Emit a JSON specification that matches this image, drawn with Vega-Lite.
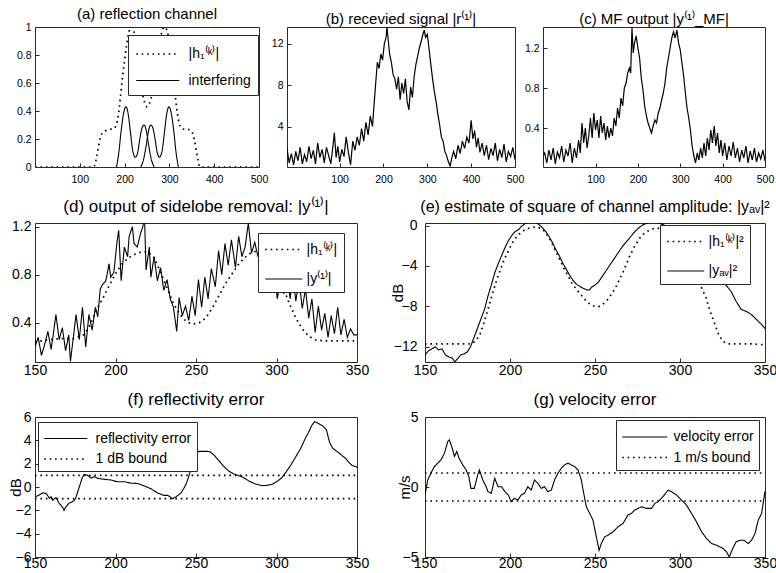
{
"$schema": "https://vega.github.io/schema/vega-lite/v6.json",
"padding": {"left": 8, "top": 6, "right": 0, "bottom": 0},
"background": "white",
"spacing": 12,
"resolve": {"scale": {"strokeDash": "independent", "strokeWidth": "independent"}, "legend": {"strokeDash": "independent", "strokeWidth": "independent"}},
"config": {
  "font": "Liberation Sans",
  "view": {"stroke": "#2a2a2a", "strokeWidth": 1},
  "axis": {"domain": false, "grid": false, "tickColor": "#2a2a2a", "tickSize": -4, "labelColor": "black", "labelFlush": false, "labelOverlap": false, "labelFont": "Liberation Sans", "titleFont": "Liberation Sans", "titleFontWeight": "normal", "titleColor": "black"},
  "legend": {"fillColor": "white", "strokeColor": "#2a2a2a", "labelFontSize": 14, "labelColor": "black", "symbolStrokeColor": "black", "symbolStrokeWidth": 1.4, "symbolType": "M-2,0H2"},
  "title": {"fontWeight": "normal", "color": "black", "anchor": "middle", "frame": "group", "baseline": "alphabetic", "font": "Liberation Sans"}
},
"datasets": {
"a": [
{"x":0,"y":0,"s":"|h₁⁽ᵏ⁾|","p":0},{"x":130,"y":0,"s":"|h₁⁽ᵏ⁾|","p":0},{"x":134,"y":0.02,"s":"|h₁⁽ᵏ⁾|","p":0},{"x":138,"y":0.08,"s":"|h₁⁽ᵏ⁾|","p":0},{"x":142,"y":0.15,"s":"|h₁⁽ᵏ⁾|","p":0},{"x":146,"y":0.21,"s":"|h₁⁽ᵏ⁾|","p":0},{"x":150,"y":0.24,"s":"|h₁⁽ᵏ⁾|","p":0},{"x":158,"y":0.26,"s":"|h₁⁽ᵏ⁾|","p":0},{"x":166,"y":0.27,"s":"|h₁⁽ᵏ⁾|","p":0},{"x":174,"y":0.27,"s":"|h₁⁽ᵏ⁾|","p":0},{"x":180,"y":0.29,"s":"|h₁⁽ᵏ⁾|","p":0},{"x":184,"y":0.33,"s":"|h₁⁽ᵏ⁾|","p":0},{"x":188,"y":0.42,"s":"|h₁⁽ᵏ⁾|","p":0},{"x":192,"y":0.54,"s":"|h₁⁽ᵏ⁾|","p":0},{"x":196,"y":0.66,"s":"|h₁⁽ᵏ⁾|","p":0},{"x":200,"y":0.76,"s":"|h₁⁽ᵏ⁾|","p":0},{"x":204,"y":0.86,"s":"|h₁⁽ᵏ⁾|","p":0},{"x":208,"y":0.94,"s":"|h₁⁽ᵏ⁾|","p":0},{"x":212,"y":0.99,"s":"|h₁⁽ᵏ⁾|","p":0},{"x":216,"y":1.0,"s":"|h₁⁽ᵏ⁾|","p":0},{"x":220,"y":0.98,"s":"|h₁⁽ᵏ⁾|","p":0},{"x":224,"y":0.9,"s":"|h₁⁽ᵏ⁾|","p":0},{"x":228,"y":0.8,"s":"|h₁⁽ᵏ⁾|","p":0},{"x":232,"y":0.7,"s":"|h₁⁽ᵏ⁾|","p":0},{"x":236,"y":0.6,"s":"|h₁⁽ᵏ⁾|","p":0},{"x":240,"y":0.52,"s":"|h₁⁽ᵏ⁾|","p":0},{"x":245,"y":0.46,"s":"|h₁⁽ᵏ⁾|","p":0},{"x":250,"y":0.43,"s":"|h₁⁽ᵏ⁾|","p":0},{"x":255,"y":0.45,"s":"|h₁⁽ᵏ⁾|","p":0},{"x":260,"y":0.5,"s":"|h₁⁽ᵏ⁾|","p":0},{"x":265,"y":0.58,"s":"|h₁⁽ᵏ⁾|","p":0},{"x":270,"y":0.68,"s":"|h₁⁽ᵏ⁾|","p":0},{"x":274,"y":0.78,"s":"|h₁⁽ᵏ⁾|","p":0},{"x":278,"y":0.88,"s":"|h₁⁽ᵏ⁾|","p":0},{"x":282,"y":0.95,"s":"|h₁⁽ᵏ⁾|","p":0},{"x":286,"y":0.99,"s":"|h₁⁽ᵏ⁾|","p":0},{"x":290,"y":1.0,"s":"|h₁⁽ᵏ⁾|","p":0},{"x":294,"y":0.98,"s":"|h₁⁽ᵏ⁾|","p":0},{"x":298,"y":0.93,"s":"|h₁⁽ᵏ⁾|","p":0},{"x":302,"y":0.85,"s":"|h₁⁽ᵏ⁾|","p":0},{"x":306,"y":0.74,"s":"|h₁⁽ᵏ⁾|","p":0},{"x":310,"y":0.6,"s":"|h₁⁽ᵏ⁾|","p":0},{"x":314,"y":0.48,"s":"|h₁⁽ᵏ⁾|","p":0},{"x":318,"y":0.38,"s":"|h₁⁽ᵏ⁾|","p":0},{"x":322,"y":0.31,"s":"|h₁⁽ᵏ⁾|","p":0},{"x":326,"y":0.28,"s":"|h₁⁽ᵏ⁾|","p":0},{"x":332,"y":0.27,"s":"|h₁⁽ᵏ⁾|","p":0},{"x":340,"y":0.27,"s":"|h₁⁽ᵏ⁾|","p":0},{"x":348,"y":0.26,"s":"|h₁⁽ᵏ⁾|","p":0},{"x":352,"y":0.24,"s":"|h₁⁽ᵏ⁾|","p":0},{"x":356,"y":0.19,"s":"|h₁⁽ᵏ⁾|","p":0},{"x":360,"y":0.12,"s":"|h₁⁽ᵏ⁾|","p":0},{"x":364,"y":0.05,"s":"|h₁⁽ᵏ⁾|","p":0},{"x":368,"y":0,"s":"|h₁⁽ᵏ⁾|","p":0},{"x":500,"y":0,"s":"|h₁⁽ᵏ⁾|","p":0},
{"x":182,"y":0,"s":"interfering","p":1},{"x":187,"y":0.1,"s":"interfering","p":1},{"x":192,"y":0.25,"s":"interfering","p":1},{"x":197,"y":0.37,"s":"interfering","p":1},{"x":203,"y":0.43,"s":"interfering","p":1},{"x":208,"y":0.38,"s":"interfering","p":1},{"x":213,"y":0.25,"s":"interfering","p":1},{"x":218,"y":0.12,"s":"interfering","p":1},{"x":224,"y":0.07,"s":"interfering","p":1},{"x":229,"y":0.1,"s":"interfering","p":1},{"x":234,"y":0.2,"s":"interfering","p":1},{"x":239,"y":0.28,"s":"interfering","p":1},{"x":244,"y":0.3,"s":"interfering","p":1},{"x":249,"y":0.25,"s":"interfering","p":1},{"x":254,"y":0.15,"s":"interfering","p":1},{"x":260,"y":0.05,"s":"interfering","p":1},{"x":266,"y":0,"s":"interfering","p":1},
{"x":236,"y":0,"s":"interfering","p":2},{"x":242,"y":0.05,"s":"interfering","p":2},{"x":248,"y":0.15,"s":"interfering","p":2},{"x":253,"y":0.25,"s":"interfering","p":2},{"x":258,"y":0.3,"s":"interfering","p":2},{"x":263,"y":0.28,"s":"interfering","p":2},{"x":268,"y":0.2,"s":"interfering","p":2},{"x":273,"y":0.1,"s":"interfering","p":2},{"x":278,"y":0.07,"s":"interfering","p":2},{"x":284,"y":0.12,"s":"interfering","p":2},{"x":289,"y":0.25,"s":"interfering","p":2},{"x":294,"y":0.38,"s":"interfering","p":2},{"x":299,"y":0.43,"s":"interfering","p":2},{"x":305,"y":0.37,"s":"interfering","p":2},{"x":310,"y":0.25,"s":"interfering","p":2},{"x":315,"y":0.1,"s":"interfering","p":2},{"x":320,"y":0,"s":"interfering","p":2}
],
"b": [
{"x":-20,"y":1.9},{"x":-15,"y":0.5},{"x":-10,"y":1.4},{"x":-5,"y":0.3},{"x":0,"y":1.6},{"x":5,"y":0.7},{"x":10,"y":2.0},{"x":15,"y":0.4},{"x":20,"y":1.3},{"x":25,"y":0.6},{"x":30,"y":2.1},{"x":35,"y":0.9},{"x":40,"y":1.7},{"x":45,"y":0.4},{"x":50,"y":2.4},{"x":55,"y":1.0},{"x":60,"y":1.8},{"x":65,"y":0.5},{"x":70,"y":2.0},{"x":75,"y":1.2},{"x":80,"y":0.4},{"x":85,"y":2.2},{"x":88,"y":3.4},{"x":92,"y":1.0},{"x":96,"y":2.1},{"x":100,"y":0.6},{"x":105,"y":1.8},{"x":110,"y":1.1},{"x":115,"y":3.0},{"x":120,"y":1.5},{"x":125,"y":0.3},{"x":130,"y":2.6},{"x":135,"y":1.7},{"x":140,"y":3.0},{"x":145,"y":2.2},{"x":150,"y":3.8},{"x":155,"y":2.6},{"x":160,"y":4.4},{"x":165,"y":3.2},{"x":170,"y":5.0},{"x":175,"y":4.0},{"x":178,"y":5.8},{"x":182,"y":8.0},{"x":186,"y":10.2},{"x":190,"y":9.6},{"x":194,"y":11.0},{"x":198,"y":10.4},{"x":202,"y":12.0},{"x":206,"y":12.6},{"x":208,"y":13.6},{"x":211,"y":12.3},{"x":214,"y":11.0},{"x":218,"y":10.2},{"x":222,"y":9.0},{"x":226,"y":8.6},{"x":230,"y":7.6},{"x":234,"y":8.8},{"x":238,"y":6.6},{"x":242,"y":8.2},{"x":246,"y":7.2},{"x":250,"y":8.6},{"x":254,"y":6.4},{"x":258,"y":5.6},{"x":262,"y":7.8},{"x":266,"y":6.8},{"x":270,"y":8.8},{"x":274,"y":10.0},{"x":278,"y":10.8},{"x":282,"y":11.6},{"x":286,"y":12.2},{"x":290,"y":12.9},{"x":293,"y":13.3},{"x":296,"y":12.6},{"x":300,"y":12.9},{"x":304,"y":11.5},{"x":308,"y":10.0},{"x":312,"y":8.6},{"x":316,"y":7.4},{"x":320,"y":6.4},{"x":324,"y":5.2},{"x":328,"y":4.2},{"x":332,"y":3.0},{"x":336,"y":2.6},{"x":340,"y":1.6},{"x":344,"y":1.2},{"x":348,"y":0.6},{"x":352,"y":0.2},{"x":356,"y":1.0},{"x":360,"y":1.6},{"x":365,"y":0.9},{"x":370,"y":2.2},{"x":375,"y":1.4},{"x":380,"y":2.6},{"x":385,"y":1.9},{"x":390,"y":3.0},{"x":395,"y":2.4},{"x":400,"y":4.6},{"x":404,"y":2.8},{"x":408,"y":3.6},{"x":412,"y":2.0},{"x":416,"y":2.9},{"x":420,"y":1.5},{"x":425,"y":2.4},{"x":430,"y":1.2},{"x":435,"y":2.2},{"x":440,"y":0.8},{"x":445,"y":1.9},{"x":450,"y":1.2},{"x":455,"y":2.4},{"x":460,"y":0.7},{"x":465,"y":1.8},{"x":470,"y":1.0},{"x":475,"y":2.3},{"x":480,"y":0.6},{"x":485,"y":1.6},{"x":490,"y":1.1},{"x":495,"y":2.0},{"x":500,"y":0.8}
],
"c": [
{"x":-24,"y":0.12},{"x":-20,"y":0.15},{"x":-15,"y":0.05},{"x":-10,"y":0.18},{"x":-5,"y":0.08},{"x":0,"y":0.2},{"x":5,"y":0.04},{"x":10,"y":0.16},{"x":15,"y":0.1},{"x":20,"y":0.22},{"x":25,"y":0.06},{"x":30,"y":0.18},{"x":35,"y":0.12},{"x":40,"y":0.25},{"x":45,"y":0.05},{"x":50,"y":0.2},{"x":55,"y":0.1},{"x":60,"y":0.28},{"x":64,"y":0.15},{"x":68,"y":0.45},{"x":72,"y":0.25},{"x":76,"y":0.4},{"x":80,"y":0.2},{"x":84,"y":0.32},{"x":88,"y":0.5},{"x":92,"y":0.3},{"x":96,"y":0.55},{"x":100,"y":0.38},{"x":104,"y":0.48},{"x":108,"y":0.3},{"x":112,"y":0.52},{"x":116,"y":0.35},{"x":120,"y":0.45},{"x":124,"y":0.28},{"x":128,"y":0.42},{"x":132,"y":0.3},{"x":136,"y":0.4},{"x":140,"y":0.32},{"x":144,"y":0.5},{"x":148,"y":0.42},{"x":152,"y":0.6},{"x":156,"y":0.5},{"x":160,"y":0.7},{"x":164,"y":0.62},{"x":168,"y":0.8},{"x":172,"y":0.85},{"x":176,"y":0.95},{"x":180,"y":1.0},{"x":183,"y":0.95},{"x":186,"y":1.4},{"x":189,"y":1.15},{"x":192,"y":1.25},{"x":196,"y":1.32},{"x":200,"y":1.2},{"x":204,"y":1.1},{"x":208,"y":0.9},{"x":212,"y":0.78},{"x":216,"y":0.62},{"x":220,"y":0.52},{"x":224,"y":0.45},{"x":228,"y":0.4},{"x":232,"y":0.35},{"x":236,"y":0.42},{"x":240,"y":0.48},{"x":244,"y":0.45},{"x":248,"y":0.55},{"x":252,"y":0.6},{"x":256,"y":0.68},{"x":260,"y":0.75},{"x":264,"y":0.85},{"x":268,"y":1.0},{"x":272,"y":1.1},{"x":276,"y":1.2},{"x":280,"y":1.3},{"x":284,"y":1.36},{"x":288,"y":1.3},{"x":292,"y":1.38},{"x":296,"y":1.25},{"x":300,"y":1.18},{"x":304,"y":1.05},{"x":308,"y":0.92},{"x":312,"y":0.75},{"x":316,"y":0.6},{"x":320,"y":0.5},{"x":324,"y":0.38},{"x":328,"y":0.22},{"x":332,"y":0.12},{"x":336,"y":0.05},{"x":340,"y":0.15},{"x":344,"y":0.08},{"x":348,"y":0.2},{"x":352,"y":0.1},{"x":356,"y":0.25},{"x":360,"y":0.12},{"x":364,"y":0.3},{"x":368,"y":0.18},{"x":372,"y":0.38},{"x":376,"y":0.25},{"x":380,"y":0.42},{"x":384,"y":0.22},{"x":388,"y":0.35},{"x":392,"y":0.15},{"x":396,"y":0.28},{"x":400,"y":0.12},{"x":405,"y":0.25},{"x":410,"y":0.08},{"x":415,"y":0.22},{"x":420,"y":0.12},{"x":425,"y":0.26},{"x":430,"y":0.1},{"x":435,"y":0.2},{"x":440,"y":0.06},{"x":445,"y":0.18},{"x":450,"y":0.1},{"x":455,"y":0.22},{"x":460,"y":0.05},{"x":465,"y":0.17},{"x":470,"y":0.08},{"x":475,"y":0.2},{"x":480,"y":0.06},{"x":485,"y":0.15},{"x":490,"y":0.09},{"x":495,"y":0.18},{"x":500,"y":0.07}
],
"d": [
{"x":150,"y":0.24,"s":"|h₁⁽ᵏ⁾|"},{"x":158,"y":0.26,"s":"|h₁⁽ᵏ⁾|"},{"x":166,"y":0.27,"s":"|h₁⁽ᵏ⁾|"},{"x":174,"y":0.27,"s":"|h₁⁽ᵏ⁾|"},{"x":180,"y":0.3,"s":"|h₁⁽ᵏ⁾|"},{"x":183,"y":0.35,"s":"|h₁⁽ᵏ⁾|"},{"x":186,"y":0.44,"s":"|h₁⁽ᵏ⁾|"},{"x":189,"y":0.53,"s":"|h₁⁽ᵏ⁾|"},{"x":192,"y":0.6,"s":"|h₁⁽ᵏ⁾|"},{"x":195,"y":0.68,"s":"|h₁⁽ᵏ⁾|"},{"x":198,"y":0.76,"s":"|h₁⁽ᵏ⁾|"},{"x":201,"y":0.83,"s":"|h₁⁽ᵏ⁾|"},{"x":204,"y":0.89,"s":"|h₁⁽ᵏ⁾|"},{"x":208,"y":0.94,"s":"|h₁⁽ᵏ⁾|"},{"x":212,"y":0.97,"s":"|h₁⁽ᵏ⁾|"},{"x":216,"y":0.99,"s":"|h₁⁽ᵏ⁾|"},{"x":220,"y":0.99,"s":"|h₁⁽ᵏ⁾|"},{"x":224,"y":0.94,"s":"|h₁⁽ᵏ⁾|"},{"x":228,"y":0.82,"s":"|h₁⁽ᵏ⁾|"},{"x":232,"y":0.69,"s":"|h₁⁽ᵏ⁾|"},{"x":236,"y":0.56,"s":"|h₁⁽ᵏ⁾|"},{"x":240,"y":0.47,"s":"|h₁⁽ᵏ⁾|"},{"x":244,"y":0.41,"s":"|h₁⁽ᵏ⁾|"},{"x":248,"y":0.39,"s":"|h₁⁽ᵏ⁾|"},{"x":252,"y":0.4,"s":"|h₁⁽ᵏ⁾|"},{"x":256,"y":0.44,"s":"|h₁⁽ᵏ⁾|"},{"x":260,"y":0.52,"s":"|h₁⁽ᵏ⁾|"},{"x":264,"y":0.62,"s":"|h₁⁽ᵏ⁾|"},{"x":268,"y":0.72,"s":"|h₁⁽ᵏ⁾|"},{"x":272,"y":0.8,"s":"|h₁⁽ᵏ⁾|"},{"x":276,"y":0.88,"s":"|h₁⁽ᵏ⁾|"},{"x":280,"y":0.94,"s":"|h₁⁽ᵏ⁾|"},{"x":284,"y":0.98,"s":"|h₁⁽ᵏ⁾|"},{"x":288,"y":1.0,"s":"|h₁⁽ᵏ⁾|"},{"x":292,"y":0.99,"s":"|h₁⁽ᵏ⁾|"},{"x":296,"y":0.94,"s":"|h₁⁽ᵏ⁾|"},{"x":300,"y":0.84,"s":"|h₁⁽ᵏ⁾|"},{"x":304,"y":0.7,"s":"|h₁⁽ᵏ⁾|"},{"x":308,"y":0.56,"s":"|h₁⁽ᵏ⁾|"},{"x":312,"y":0.44,"s":"|h₁⁽ᵏ⁾|"},{"x":316,"y":0.35,"s":"|h₁⁽ᵏ⁾|"},{"x":320,"y":0.29,"s":"|h₁⁽ᵏ⁾|"},{"x":324,"y":0.26,"s":"|h₁⁽ᵏ⁾|"},{"x":330,"y":0.25,"s":"|h₁⁽ᵏ⁾|"},{"x":340,"y":0.25,"s":"|h₁⁽ᵏ⁾|"},{"x":350,"y":0.25,"s":"|h₁⁽ᵏ⁾|"},
{"x":150,"y":0.2,"s":"|y⁽¹⁾|"},{"x":152,"y":0.28,"s":"|y⁽¹⁾|"},{"x":154,"y":0.13,"s":"|y⁽¹⁾|"},{"x":156,"y":0.22,"s":"|y⁽¹⁾|"},{"x":158,"y":0.33,"s":"|y⁽¹⁾|"},{"x":160,"y":0.18,"s":"|y⁽¹⁾|"},{"x":161,"y":0.27,"s":"|y⁽¹⁾|"},{"x":163,"y":0.47,"s":"|y⁽¹⁾|"},{"x":165,"y":0.26,"s":"|y⁽¹⁾|"},{"x":167,"y":0.36,"s":"|y⁽¹⁾|"},{"x":169,"y":0.17,"s":"|y⁽¹⁾|"},{"x":171,"y":0.3,"s":"|y⁽¹⁾|"},{"x":172,"y":0.08,"s":"|y⁽¹⁾|"},{"x":174,"y":0.3,"s":"|y⁽¹⁾|"},{"x":175.5,"y":0.47,"s":"|y⁽¹⁾|"},{"x":177.5,"y":0.26,"s":"|y⁽¹⁾|"},{"x":179.5,"y":0.53,"s":"|y⁽¹⁾|"},{"x":181.5,"y":0.2,"s":"|y⁽¹⁾|"},{"x":183.5,"y":0.47,"s":"|y⁽¹⁾|"},{"x":185.5,"y":0.34,"s":"|y⁽¹⁾|"},{"x":187.5,"y":0.53,"s":"|y⁽¹⁾|"},{"x":189,"y":0.45,"s":"|y⁽¹⁾|"},{"x":190.5,"y":0.68,"s":"|y⁽¹⁾|"},{"x":192,"y":0.72,"s":"|y⁽¹⁾|"},{"x":194,"y":0.75,"s":"|y⁽¹⁾|"},{"x":196,"y":0.89,"s":"|y⁽¹⁾|"},{"x":197,"y":0.78,"s":"|y⁽¹⁾|"},{"x":199,"y":0.82,"s":"|y⁽¹⁾|"},{"x":201,"y":1.08,"s":"|y⁽¹⁾|"},{"x":202,"y":1.17,"s":"|y⁽¹⁾|"},{"x":203.5,"y":0.75,"s":"|y⁽¹⁾|"},{"x":205.5,"y":1.03,"s":"|y⁽¹⁾|"},{"x":207.5,"y":0.95,"s":"|y⁽¹⁾|"},{"x":208.5,"y":1.12,"s":"|y⁽¹⁾|"},{"x":210.5,"y":1.2,"s":"|y⁽¹⁾|"},{"x":211.5,"y":1.06,"s":"|y⁽¹⁾|"},{"x":213.5,"y":1.03,"s":"|y⁽¹⁾|"},{"x":215.5,"y":1.14,"s":"|y⁽¹⁾|"},{"x":217,"y":1.2,"s":"|y⁽¹⁾|"},{"x":218,"y":1.28,"s":"|y⁽¹⁾|"},{"x":219,"y":0.84,"s":"|y⁽¹⁾|"},{"x":221,"y":1.03,"s":"|y⁽¹⁾|"},{"x":222,"y":0.78,"s":"|y⁽¹⁾|"},{"x":224,"y":0.95,"s":"|y⁽¹⁾|"},{"x":226,"y":0.75,"s":"|y⁽¹⁾|"},{"x":228,"y":0.86,"s":"|y⁽¹⁾|"},{"x":230,"y":0.67,"s":"|y⁽¹⁾|"},{"x":232,"y":0.76,"s":"|y⁽¹⁾|"},{"x":234,"y":0.6,"s":"|y⁽¹⁾|"},{"x":236,"y":0.53,"s":"|y⁽¹⁾|"},{"x":238,"y":0.33,"s":"|y⁽¹⁾|"},{"x":239.5,"y":0.61,"s":"|y⁽¹⁾|"},{"x":241.5,"y":0.46,"s":"|y⁽¹⁾|"},{"x":243.5,"y":0.54,"s":"|y⁽¹⁾|"},{"x":245.5,"y":0.42,"s":"|y⁽¹⁾|"},{"x":247.5,"y":0.62,"s":"|y⁽¹⁾|"},{"x":249.5,"y":0.46,"s":"|y⁽¹⁾|"},{"x":251.5,"y":0.76,"s":"|y⁽¹⁾|"},{"x":253.5,"y":0.53,"s":"|y⁽¹⁾|"},{"x":255.5,"y":0.78,"s":"|y⁽¹⁾|"},{"x":257.5,"y":0.6,"s":"|y⁽¹⁾|"},{"x":259.5,"y":0.85,"s":"|y⁽¹⁾|"},{"x":262,"y":0.7,"s":"|y⁽¹⁾|"},{"x":264,"y":1.0,"s":"|y⁽¹⁾|"},{"x":266,"y":0.8,"s":"|y⁽¹⁾|"},{"x":268,"y":1.06,"s":"|y⁽¹⁾|"},{"x":270,"y":0.88,"s":"|y⁽¹⁾|"},{"x":272,"y":1.09,"s":"|y⁽¹⁾|"},{"x":274.5,"y":0.86,"s":"|y⁽¹⁾|"},{"x":276.5,"y":1.12,"s":"|y⁽¹⁾|"},{"x":278.5,"y":0.95,"s":"|y⁽¹⁾|"},{"x":280.5,"y":1.03,"s":"|y⁽¹⁾|"},{"x":282.5,"y":1.23,"s":"|y⁽¹⁾|"},{"x":284.5,"y":0.98,"s":"|y⁽¹⁾|"},{"x":286.5,"y":1.07,"s":"|y⁽¹⁾|"},{"x":288.5,"y":0.95,"s":"|y⁽¹⁾|"},{"x":290.5,"y":1.08,"s":"|y⁽¹⁾|"},{"x":292.5,"y":0.9,"s":"|y⁽¹⁾|"},{"x":294.5,"y":1.0,"s":"|y⁽¹⁾|"},{"x":296.5,"y":0.78,"s":"|y⁽¹⁾|"},{"x":298.5,"y":0.86,"s":"|y⁽¹⁾|"},{"x":300.5,"y":0.6,"s":"|y⁽¹⁾|"},{"x":302.5,"y":0.76,"s":"|y⁽¹⁾|"},{"x":304.5,"y":0.64,"s":"|y⁽¹⁾|"},{"x":306.5,"y":0.8,"s":"|y⁽¹⁾|"},{"x":308.5,"y":0.6,"s":"|y⁽¹⁾|"},{"x":310,"y":0.82,"s":"|y⁽¹⁾|"},{"x":312,"y":0.58,"s":"|y⁽¹⁾|"},{"x":314,"y":0.76,"s":"|y⁽¹⁾|"},{"x":316,"y":0.52,"s":"|y⁽¹⁾|"},{"x":318,"y":0.68,"s":"|y⁽¹⁾|"},{"x":320,"y":0.44,"s":"|y⁽¹⁾|"},{"x":322,"y":0.6,"s":"|y⁽¹⁾|"},{"x":324,"y":0.32,"s":"|y⁽¹⁾|"},{"x":326,"y":0.54,"s":"|y⁽¹⁾|"},{"x":328,"y":0.34,"s":"|y⁽¹⁾|"},{"x":330,"y":0.48,"s":"|y⁽¹⁾|"},{"x":332,"y":0.28,"s":"|y⁽¹⁾|"},{"x":334,"y":0.46,"s":"|y⁽¹⁾|"},{"x":336,"y":0.31,"s":"|y⁽¹⁾|"},{"x":338,"y":0.53,"s":"|y⁽¹⁾|"},{"x":340,"y":0.3,"s":"|y⁽¹⁾|"},{"x":342,"y":0.43,"s":"|y⁽¹⁾|"},{"x":344,"y":0.28,"s":"|y⁽¹⁾|"},{"x":346,"y":0.35,"s":"|y⁽¹⁾|"},{"x":348,"y":0.3,"s":"|y⁽¹⁾|"},{"x":350,"y":0.3,"s":"|y⁽¹⁾|"}
],
"e": [
{"x":150,"y":-11.7,"s":"|h₁⁽ᵏ⁾|²"},{"x":177,"y":-11.7,"s":"|h₁⁽ᵏ⁾|²"},{"x":180,"y":-11.4,"s":"|h₁⁽ᵏ⁾|²"},{"x":182.5,"y":-10.7,"s":"|h₁⁽ᵏ⁾|²"},{"x":184.5,"y":-9.7,"s":"|h₁⁽ᵏ⁾|²"},{"x":186.5,"y":-8.6,"s":"|h₁⁽ᵏ⁾|²"},{"x":188.5,"y":-7.4,"s":"|h₁⁽ᵏ⁾|²"},{"x":190.5,"y":-6.3,"s":"|h₁⁽ᵏ⁾|²"},{"x":192.5,"y":-5.2,"s":"|h₁⁽ᵏ⁾|²"},{"x":194.5,"y":-4.3,"s":"|h₁⁽ᵏ⁾|²"},{"x":196.5,"y":-3.4,"s":"|h₁⁽ᵏ⁾|²"},{"x":198.5,"y":-2.7,"s":"|h₁⁽ᵏ⁾|²"},{"x":200.5,"y":-2.0,"s":"|h₁⁽ᵏ⁾|²"},{"x":202.5,"y":-1.4,"s":"|h₁⁽ᵏ⁾|²"},{"x":204.5,"y":-1.0,"s":"|h₁⁽ᵏ⁾|²"},{"x":206.5,"y":-0.7,"s":"|h₁⁽ᵏ⁾|²"},{"x":208.5,"y":-0.45,"s":"|h₁⁽ᵏ⁾|²"},{"x":210.5,"y":-0.3,"s":"|h₁⁽ᵏ⁾|²"},{"x":212.5,"y":-0.2,"s":"|h₁⁽ᵏ⁾|²"},{"x":214.5,"y":-0.15,"s":"|h₁⁽ᵏ⁾|²"},{"x":216.5,"y":-0.2,"s":"|h₁⁽ᵏ⁾|²"},{"x":218.5,"y":-0.3,"s":"|h₁⁽ᵏ⁾|²"},{"x":220.5,"y":-0.6,"s":"|h₁⁽ᵏ⁾|²"},{"x":222.5,"y":-1.1,"s":"|h₁⁽ᵏ⁾|²"},{"x":224.5,"y":-1.7,"s":"|h₁⁽ᵏ⁾|²"},{"x":226.5,"y":-2.4,"s":"|h₁⁽ᵏ⁾|²"},{"x":228.5,"y":-3.1,"s":"|h₁⁽ᵏ⁾|²"},{"x":230.5,"y":-3.8,"s":"|h₁⁽ᵏ⁾|²"},{"x":232.5,"y":-4.5,"s":"|h₁⁽ᵏ⁾|²"},{"x":234.5,"y":-5.1,"s":"|h₁⁽ᵏ⁾|²"},{"x":236.5,"y":-5.7,"s":"|h₁⁽ᵏ⁾|²"},{"x":238.5,"y":-6.2,"s":"|h₁⁽ᵏ⁾|²"},{"x":240.5,"y":-6.6,"s":"|h₁⁽ᵏ⁾|²"},{"x":242.5,"y":-7.0,"s":"|h₁⁽ᵏ⁾|²"},{"x":244.5,"y":-7.4,"s":"|h₁⁽ᵏ⁾|²"},{"x":246.5,"y":-7.7,"s":"|h₁⁽ᵏ⁾|²"},{"x":248.5,"y":-7.9,"s":"|h₁⁽ᵏ⁾|²"},{"x":250.5,"y":-8.05,"s":"|h₁⁽ᵏ⁾|²"},{"x":252.5,"y":-8.0,"s":"|h₁⁽ᵏ⁾|²"},{"x":254.5,"y":-7.8,"s":"|h₁⁽ᵏ⁾|²"},{"x":256.5,"y":-7.5,"s":"|h₁⁽ᵏ⁾|²"},{"x":258.5,"y":-7.1,"s":"|h₁⁽ᵏ⁾|²"},{"x":260.5,"y":-6.6,"s":"|h₁⁽ᵏ⁾|²"},{"x":262.5,"y":-6.0,"s":"|h₁⁽ᵏ⁾|²"},{"x":264.5,"y":-5.3,"s":"|h₁⁽ᵏ⁾|²"},{"x":266.5,"y":-4.6,"s":"|h₁⁽ᵏ⁾|²"},{"x":268.5,"y":-3.8,"s":"|h₁⁽ᵏ⁾|²"},{"x":270.5,"y":-3.0,"s":"|h₁⁽ᵏ⁾|²"},{"x":272.5,"y":-2.3,"s":"|h₁⁽ᵏ⁾|²"},{"x":274.5,"y":-1.7,"s":"|h₁⁽ᵏ⁾|²"},{"x":276.5,"y":-1.2,"s":"|h₁⁽ᵏ⁾|²"},{"x":278.5,"y":-0.85,"s":"|h₁⁽ᵏ⁾|²"},{"x":280.5,"y":-0.6,"s":"|h₁⁽ᵏ⁾|²"},{"x":282.5,"y":-0.4,"s":"|h₁⁽ᵏ⁾|²"},{"x":284.5,"y":-0.3,"s":"|h₁⁽ᵏ⁾|²"},{"x":286.5,"y":-0.25,"s":"|h₁⁽ᵏ⁾|²"},{"x":288.5,"y":-0.3,"s":"|h₁⁽ᵏ⁾|²"},{"x":291,"y":-0.5,"s":"|h₁⁽ᵏ⁾|²"},{"x":294,"y":-0.9,"s":"|h₁⁽ᵏ⁾|²"},{"x":297,"y":-1.5,"s":"|h₁⁽ᵏ⁾|²"},{"x":300,"y":-2.2,"s":"|h₁⁽ᵏ⁾|²"},{"x":303,"y":-3.0,"s":"|h₁⁽ᵏ⁾|²"},{"x":306,"y":-4.0,"s":"|h₁⁽ᵏ⁾|²"},{"x":309,"y":-5.0,"s":"|h₁⁽ᵏ⁾|²"},{"x":312,"y":-5.9,"s":"|h₁⁽ᵏ⁾|²"},{"x":315,"y":-7.0,"s":"|h₁⁽ᵏ⁾|²"},{"x":318,"y":-8.6,"s":"|h₁⁽ᵏ⁾|²"},{"x":321,"y":-10.0,"s":"|h₁⁽ᵏ⁾|²"},{"x":323,"y":-10.9,"s":"|h₁⁽ᵏ⁾|²"},{"x":325.5,"y":-11.5,"s":"|h₁⁽ᵏ⁾|²"},{"x":328,"y":-11.7,"s":"|h₁⁽ᵏ⁾|²"},{"x":342,"y":-11.7,"s":"|h₁⁽ᵏ⁾|²"},{"x":350,"y":-11.8,"s":"|h₁⁽ᵏ⁾|²"},
{"x":150,"y":-12.8,"s":"|yₐᵥ|²"},{"x":152,"y":-12.4,"s":"|yₐᵥ|²"},{"x":154,"y":-12.2,"s":"|yₐᵥ|²"},{"x":156,"y":-12.0,"s":"|yₐᵥ|²"},{"x":158,"y":-12.3,"s":"|yₐᵥ|²"},{"x":160,"y":-12.2,"s":"|yₐᵥ|²"},{"x":162,"y":-12.8,"s":"|yₐᵥ|²"},{"x":164,"y":-13.0,"s":"|yₐᵥ|²"},{"x":166,"y":-13.1,"s":"|yₐᵥ|²"},{"x":167.5,"y":-13.5,"s":"|yₐᵥ|²"},{"x":169,"y":-13.2,"s":"|yₐᵥ|²"},{"x":171,"y":-12.8,"s":"|yₐᵥ|²"},{"x":173,"y":-12.7,"s":"|yₐᵥ|²"},{"x":175,"y":-12.5,"s":"|yₐᵥ|²"},{"x":177,"y":-11.9,"s":"|yₐᵥ|²"},{"x":179,"y":-11.0,"s":"|yₐᵥ|²"},{"x":181,"y":-10.1,"s":"|yₐᵥ|²"},{"x":183,"y":-9.2,"s":"|yₐᵥ|²"},{"x":185,"y":-8.3,"s":"|yₐᵥ|²"},{"x":187,"y":-7.0,"s":"|yₐᵥ|²"},{"x":189,"y":-5.9,"s":"|yₐᵥ|²"},{"x":191,"y":-4.7,"s":"|yₐᵥ|²"},{"x":193,"y":-3.8,"s":"|yₐᵥ|²"},{"x":195,"y":-3.0,"s":"|yₐᵥ|²"},{"x":197,"y":-2.2,"s":"|yₐᵥ|²"},{"x":199,"y":-1.5,"s":"|yₐᵥ|²"},{"x":201,"y":-1.0,"s":"|yₐᵥ|²"},{"x":203,"y":-0.6,"s":"|yₐᵥ|²"},{"x":205,"y":-0.4,"s":"|yₐᵥ|²"},{"x":207,"y":-0.05,"s":"|yₐᵥ|²"},{"x":209,"y":0.2,"s":"|yₐᵥ|²"},{"x":211,"y":0.3,"s":"|yₐᵥ|²"},{"x":215,"y":0.3,"s":"|yₐᵥ|²"},{"x":217,"y":0.1,"s":"|yₐᵥ|²"},{"x":219,"y":-0.2,"s":"|yₐᵥ|²"},{"x":221,"y":-0.6,"s":"|yₐᵥ|²"},{"x":223,"y":-1.1,"s":"|yₐᵥ|²"},{"x":225,"y":-1.7,"s":"|yₐᵥ|²"},{"x":227,"y":-2.4,"s":"|yₐᵥ|²"},{"x":229,"y":-3.0,"s":"|yₐᵥ|²"},{"x":231,"y":-3.7,"s":"|yₐᵥ|²"},{"x":233,"y":-4.3,"s":"|yₐᵥ|²"},{"x":235,"y":-4.9,"s":"|yₐᵥ|²"},{"x":237,"y":-5.4,"s":"|yₐᵥ|²"},{"x":239,"y":-5.8,"s":"|yₐᵥ|²"},{"x":241,"y":-6.0,"s":"|yₐᵥ|²"},{"x":243,"y":-6.2,"s":"|yₐᵥ|²"},{"x":245,"y":-6.35,"s":"|yₐᵥ|²"},{"x":246.5,"y":-6.4,"s":"|yₐᵥ|²"},{"x":248,"y":-6.1,"s":"|yₐᵥ|²"},{"x":250,"y":-5.9,"s":"|yₐᵥ|²"},{"x":252,"y":-5.6,"s":"|yₐᵥ|²"},{"x":254,"y":-5.1,"s":"|yₐᵥ|²"},{"x":256,"y":-4.6,"s":"|yₐᵥ|²"},{"x":258,"y":-4.1,"s":"|yₐᵥ|²"},{"x":260,"y":-3.6,"s":"|yₐᵥ|²"},{"x":262,"y":-3.1,"s":"|yₐᵥ|²"},{"x":264,"y":-2.6,"s":"|yₐᵥ|²"},{"x":266,"y":-2.1,"s":"|yₐᵥ|²"},{"x":268,"y":-1.7,"s":"|yₐᵥ|²"},{"x":270,"y":-1.3,"s":"|yₐᵥ|²"},{"x":272,"y":-0.9,"s":"|yₐᵥ|²"},{"x":274,"y":-0.5,"s":"|yₐᵥ|²"},{"x":276,"y":-0.2,"s":"|yₐᵥ|²"},{"x":278,"y":0.05,"s":"|yₐᵥ|²"},{"x":280,"y":0.2,"s":"|yₐᵥ|²"},{"x":282,"y":0.3,"s":"|yₐᵥ|²"},{"x":286,"y":0.3,"s":"|yₐᵥ|²"},{"x":288,"y":0.2,"s":"|yₐᵥ|²"},{"x":290,"y":0.1,"s":"|yₐᵥ|²"},{"x":292,"y":-0.1,"s":"|yₐᵥ|²"},{"x":294,"y":-0.25,"s":"|yₐᵥ|²"},{"x":296,"y":-0.5,"s":"|yₐᵥ|²"},{"x":300,"y":-1.0,"s":"|yₐᵥ|²"},{"x":305,"y":-1.8,"s":"|yₐᵥ|²"},{"x":310,"y":-2.7,"s":"|yₐᵥ|²"},{"x":315,"y":-3.6,"s":"|yₐᵥ|²"},{"x":320,"y":-4.5,"s":"|yₐᵥ|²"},{"x":325,"y":-5.5,"s":"|yₐᵥ|²"},{"x":330,"y":-6.5,"s":"|yₐᵥ|²"},{"x":333,"y":-7.5,"s":"|yₐᵥ|²"},{"x":336,"y":-8.3,"s":"|yₐᵥ|²"},{"x":339,"y":-8.5,"s":"|yₐᵥ|²"},{"x":342,"y":-8.8,"s":"|yₐᵥ|²"},{"x":345,"y":-9.3,"s":"|yₐᵥ|²"},{"x":348,"y":-9.8,"s":"|yₐᵥ|²"},{"x":350,"y":-10.2,"s":"|yₐᵥ|²"}
],
"f": [
{"x":150,"y":-0.84,"s":"reflectivity error","p":0},{"x":152.5,"y":-0.7,"s":"reflectivity error","p":0},{"x":154.8,"y":-0.5,"s":"reflectivity error","p":0},{"x":157,"y":-0.55,"s":"reflectivity error","p":0},{"x":159,"y":-0.98,"s":"reflectivity error","p":0},{"x":160,"y":-0.84,"s":"reflectivity error","p":0},{"x":161,"y":-1.13,"s":"reflectivity error","p":0},{"x":163,"y":-0.9,"s":"reflectivity error","p":0},{"x":165,"y":-1.4,"s":"reflectivity error","p":0},{"x":167,"y":-1.7,"s":"reflectivity error","p":0},{"x":168,"y":-2.0,"s":"reflectivity error","p":0},{"x":169,"y":-1.75,"s":"reflectivity error","p":0},{"x":171,"y":-1.4,"s":"reflectivity error","p":0},{"x":172.5,"y":-1.3,"s":"reflectivity error","p":0},{"x":174.5,"y":-1.15,"s":"reflectivity error","p":0},{"x":175.5,"y":-0.85,"s":"reflectivity error","p":0},{"x":177.5,"y":0,"s":"reflectivity error","p":0},{"x":179.5,"y":0.85,"s":"reflectivity error","p":0},{"x":180.6,"y":1.07,"s":"reflectivity error","p":0},{"x":182.7,"y":1.0,"s":"reflectivity error","p":0},{"x":184.8,"y":0.76,"s":"reflectivity error","p":0},{"x":186.9,"y":0.88,"s":"reflectivity error","p":0},{"x":189,"y":0.74,"s":"reflectivity error","p":0},{"x":193,"y":0.66,"s":"reflectivity error","p":0},{"x":197,"y":0.6,"s":"reflectivity error","p":0},{"x":201,"y":0.45,"s":"reflectivity error","p":0},{"x":205.5,"y":0.45,"s":"reflectivity error","p":0},{"x":209.6,"y":0.33,"s":"reflectivity error","p":0},{"x":213.8,"y":0.3,"s":"reflectivity error","p":0},{"x":218,"y":0.08,"s":"reflectivity error","p":0},{"x":222,"y":-0.15,"s":"reflectivity error","p":0},{"x":226,"y":-0.5,"s":"reflectivity error","p":0},{"x":230,"y":-0.72,"s":"reflectivity error","p":0},{"x":232.5,"y":-0.72,"s":"reflectivity error","p":0},{"x":235.5,"y":-1.0,"s":"reflectivity error","p":0},{"x":237.6,"y":-0.84,"s":"reflectivity error","p":0},{"x":240.7,"y":-0.5,"s":"reflectivity error","p":0},{"x":242.5,"y":-0.1,"s":"reflectivity error","p":0},{"x":244,"y":0.3,"s":"reflectivity error","p":0},{"x":245.5,"y":0.9,"s":"reflectivity error","p":0},{"x":247,"y":1.6,"s":"reflectivity error","p":0},{"x":248.5,"y":2.4,"s":"reflectivity error","p":0},{"x":250,"y":2.9,"s":"reflectivity error","p":0},{"x":252,"y":3.05,"s":"reflectivity error","p":0},{"x":254,"y":3.05,"s":"reflectivity error","p":0},{"x":257,"y":3.05,"s":"reflectivity error","p":0},{"x":259,"y":3.0,"s":"reflectivity error","p":0},{"x":261.5,"y":2.7,"s":"reflectivity error","p":0},{"x":264,"y":2.3,"s":"reflectivity error","p":0},{"x":267,"y":1.8,"s":"reflectivity error","p":0},{"x":270,"y":1.4,"s":"reflectivity error","p":0},{"x":273,"y":1.15,"s":"reflectivity error","p":0},{"x":276,"y":1.0,"s":"reflectivity error","p":0},{"x":279,"y":0.85,"s":"reflectivity error","p":0},{"x":283,"y":0.5,"s":"reflectivity error","p":0},{"x":287,"y":0.25,"s":"reflectivity error","p":0},{"x":291,"y":0.12,"s":"reflectivity error","p":0},{"x":294,"y":0.14,"s":"reflectivity error","p":0},{"x":297,"y":0.22,"s":"reflectivity error","p":0},{"x":300,"y":0.45,"s":"reflectivity error","p":0},{"x":303,"y":0.75,"s":"reflectivity error","p":0},{"x":306,"y":1.3,"s":"reflectivity error","p":0},{"x":309,"y":1.9,"s":"reflectivity error","p":0},{"x":312,"y":2.6,"s":"reflectivity error","p":0},{"x":315,"y":3.3,"s":"reflectivity error","p":0},{"x":318,"y":4.2,"s":"reflectivity error","p":0},{"x":320,"y":4.7,"s":"reflectivity error","p":0},{"x":322,"y":5.3,"s":"reflectivity error","p":0},{"x":323.7,"y":5.6,"s":"reflectivity error","p":0},{"x":326,"y":5.45,"s":"reflectivity error","p":0},{"x":329,"y":5.2,"s":"reflectivity error","p":0},{"x":331,"y":4.9,"s":"reflectivity error","p":0},{"x":333,"y":3.8,"s":"reflectivity error","p":0},{"x":335,"y":3.3,"s":"reflectivity error","p":0},{"x":337,"y":3.1,"s":"reflectivity error","p":0},{"x":339,"y":2.9,"s":"reflectivity error","p":0},{"x":341,"y":2.65,"s":"reflectivity error","p":0},{"x":343,"y":2.45,"s":"reflectivity error","p":0},{"x":345,"y":2.1,"s":"reflectivity error","p":0},{"x":347,"y":1.85,"s":"reflectivity error","p":0},{"x":349,"y":1.75,"s":"reflectivity error","p":0},{"x":350,"y":1.7,"s":"reflectivity error","p":0},
{"x":150,"y":1,"s":"1 dB bound","p":1},{"x":350,"y":1,"s":"1 dB bound","p":1},{"x":150,"y":-1,"s":"1 dB bound","p":2},{"x":350,"y":-1,"s":"1 dB bound","p":2}
],
"g": [
{"x":150,"y":-0.57,"s":"velocity error","p":0},{"x":151.6,"y":0.5,"s":"velocity error","p":0},{"x":153.5,"y":1.0,"s":"velocity error","p":0},{"x":155.5,"y":1.46,"s":"velocity error","p":0},{"x":157.5,"y":1.7,"s":"velocity error","p":0},{"x":159.4,"y":1.94,"s":"velocity error","p":0},{"x":161.4,"y":2.4,"s":"velocity error","p":0},{"x":163.4,"y":3.25,"s":"velocity error","p":0},{"x":164.3,"y":3.37,"s":"velocity error","p":0},{"x":166.3,"y":2.66,"s":"velocity error","p":0},{"x":167.3,"y":2.18,"s":"velocity error","p":0},{"x":168.7,"y":2.54,"s":"velocity error","p":0},{"x":170,"y":2.06,"s":"velocity error","p":0},{"x":172.2,"y":1.58,"s":"velocity error","p":0},{"x":174.2,"y":1.22,"s":"velocity error","p":0},{"x":175.8,"y":0.74,"s":"velocity error","p":0},{"x":177,"y":-0.1,"s":"velocity error","p":0},{"x":179,"y":-0.1,"s":"velocity error","p":0},{"x":181,"y":0.86,"s":"velocity error","p":0},{"x":182,"y":1.22,"s":"velocity error","p":0},{"x":184,"y":0.5,"s":"velocity error","p":0},{"x":186,"y":0.02,"s":"velocity error","p":0},{"x":187,"y":-0.33,"s":"velocity error","p":0},{"x":189,"y":-0.45,"s":"velocity error","p":0},{"x":191,"y":0.62,"s":"velocity error","p":0},{"x":193,"y":0.02,"s":"velocity error","p":0},{"x":195,"y":0.02,"s":"velocity error","p":0},{"x":197,"y":-0.33,"s":"velocity error","p":0},{"x":199,"y":-0.57,"s":"velocity error","p":0},{"x":200.7,"y":-1.05,"s":"velocity error","p":0},{"x":202.6,"y":-0.81,"s":"velocity error","p":0},{"x":204.6,"y":-0.93,"s":"velocity error","p":0},{"x":206.6,"y":-0.57,"s":"velocity error","p":0},{"x":208.5,"y":-0.45,"s":"velocity error","p":0},{"x":210.5,"y":0.02,"s":"velocity error","p":0},{"x":212.5,"y":-0.22,"s":"velocity error","p":0},{"x":214.4,"y":0.5,"s":"velocity error","p":0},{"x":216.4,"y":0.26,"s":"velocity error","p":0},{"x":218.4,"y":-0.1,"s":"velocity error","p":0},{"x":220.3,"y":0.02,"s":"velocity error","p":0},{"x":222.3,"y":-0.33,"s":"velocity error","p":0},{"x":224.3,"y":-0.22,"s":"velocity error","p":0},{"x":226.2,"y":0.5,"s":"velocity error","p":0},{"x":228.2,"y":0.98,"s":"velocity error","p":0},{"x":230.2,"y":1.34,"s":"velocity error","p":0},{"x":232.1,"y":1.58,"s":"velocity error","p":0},{"x":234.1,"y":1.7,"s":"velocity error","p":0},{"x":236,"y":1.58,"s":"velocity error","p":0},{"x":238,"y":1.46,"s":"velocity error","p":0},{"x":240,"y":1.22,"s":"velocity error","p":0},{"x":242,"y":0.5,"s":"velocity error","p":0},{"x":243,"y":-0.22,"s":"velocity error","p":0},{"x":244.9,"y":-1.41,"s":"velocity error","p":0},{"x":246.9,"y":-1.89,"s":"velocity error","p":0},{"x":248.8,"y":-2.37,"s":"velocity error","p":0},{"x":250.8,"y":-3.56,"s":"velocity error","p":0},{"x":252.4,"y":-4.52,"s":"velocity error","p":0},{"x":253.7,"y":-4.04,"s":"velocity error","p":0},{"x":255.7,"y":-3.56,"s":"velocity error","p":0},{"x":257.7,"y":-3.44,"s":"velocity error","p":0},{"x":260.6,"y":-3.2,"s":"velocity error","p":0},{"x":263.5,"y":-2.85,"s":"velocity error","p":0},{"x":266.5,"y":-2.6,"s":"velocity error","p":0},{"x":269.4,"y":-2.0,"s":"velocity error","p":0},{"x":271.4,"y":-1.89,"s":"velocity error","p":0},{"x":273.3,"y":-1.65,"s":"velocity error","p":0},{"x":275.3,"y":-1.53,"s":"velocity error","p":0},{"x":277.3,"y":-1.41,"s":"velocity error","p":0},{"x":280.2,"y":-1.53,"s":"velocity error","p":0},{"x":283.2,"y":-1.53,"s":"velocity error","p":0},{"x":285.2,"y":-1.17,"s":"velocity error","p":0},{"x":287.1,"y":-1.05,"s":"velocity error","p":0},{"x":290,"y":-0.69,"s":"velocity error","p":0},{"x":293,"y":-0.22,"s":"velocity error","p":0},{"x":295,"y":-0.33,"s":"velocity error","p":0},{"x":297.9,"y":-0.57,"s":"velocity error","p":0},{"x":300.9,"y":-0.93,"s":"velocity error","p":0},{"x":303.8,"y":-1.29,"s":"velocity error","p":0},{"x":306.8,"y":-1.89,"s":"velocity error","p":0},{"x":309.7,"y":-2.49,"s":"velocity error","p":0},{"x":312.7,"y":-3.2,"s":"velocity error","p":0},{"x":315.6,"y":-3.68,"s":"velocity error","p":0},{"x":318.6,"y":-4.04,"s":"velocity error","p":0},{"x":321.5,"y":-4.16,"s":"velocity error","p":0},{"x":323.5,"y":-4.28,"s":"velocity error","p":0},{"x":325.5,"y":-4.4,"s":"velocity error","p":0},{"x":327.4,"y":-4.64,"s":"velocity error","p":0},{"x":329,"y":-5.0,"s":"velocity error","p":0},{"x":331,"y":-4.4,"s":"velocity error","p":0},{"x":333,"y":-3.92,"s":"velocity error","p":0},{"x":335.3,"y":-3.8,"s":"velocity error","p":0},{"x":337.6,"y":-3.8,"s":"velocity error","p":0},{"x":340.2,"y":-4.04,"s":"velocity error","p":0},{"x":342.1,"y":-3.8,"s":"velocity error","p":0},{"x":344.1,"y":-3.32,"s":"velocity error","p":0},{"x":346,"y":-2.37,"s":"velocity error","p":0},{"x":348,"y":-1.89,"s":"velocity error","p":0},{"x":350,"y":-0.3,"s":"velocity error","p":0},
{"x":150,"y":1,"s":"1 m/s bound","p":1},{"x":350,"y":1,"s":"1 m/s bound","p":1},{"x":150,"y":-1,"s":"1 m/s bound","p":2},{"x":350,"y":-1,"s":"1 m/s bound","p":2}
]
},
"vconcat": [
{"bounds": "flush", "spacing": 28,
 "resolve": {"scale": {"strokeDash": "independent", "strokeWidth": "independent"}, "legend": {"strokeDash": "independent", "strokeWidth": "independent"}},
 "hconcat": [
  {"width": 224, "height": 140,
   "title": {"text": "(a) reflection channel", "fontSize": 15, "offset": 0},
   "data": {"name": "a"},
   "mark": {"type": "line", "clip": true, "color": "black", "interpolate": "monotone"},
   "encoding": {
     "x": {"field": "x", "type": "quantitative", "scale": {"domain": [0, 500], "nice": false, "zero": false}, "axis": {"title": null, "values": [100, 200, 300, 400, 500], "labelFontSize": 10.5, "labelPadding": 11}},
     "y": {"field": "y", "type": "quantitative", "scale": {"domain": [0, 1], "nice": false}, "axis": {"title": null, "values": [0, 0.2, 0.4, 0.6, 0.8, 1], "labelExpr": "'' + datum.value", "labelFontSize": 10.5, "labelPadding": 8}},
     "detail": {"field": "p", "type": "nominal"},
     "strokeDash": {"field": "s", "type": "nominal", "scale": {"domain": ["|h₁⁽ᵏ⁾|", "interfering"], "range": [[1.6, 3.8], [1, 0]]}, "legend": {"title": null, "orient": "none", "legendX": 93, "legendY": 8, "symbolSize": 462, "symbolOffset": 10.75, "labelOffset": 18.75, "rowPadding": 8, "padding": 7}},
     "strokeWidth": {"field": "s", "type": "nominal", "scale": {"domain": ["|h₁⁽ᵏ⁾|", "interfering"], "range": [1.7, 1.1]}, "legend": null}
   }},
  {"width": 228, "height": 140,
   "title": {"text": "(b) recevied signal |r⁽¹⁾|", "fontSize": 15, "offset": 0},
   "data": {"name": "b"},
   "mark": {"type": "line", "clip": true, "color": "black", "strokeWidth": 1.2},
   "encoding": {
     "x": {"field": "x", "type": "quantitative", "scale": {"domain": [-20, 500], "nice": false, "zero": false}, "axis": {"title": null, "values": [100, 200, 300, 400, 500], "labelFontSize": 10.5, "labelPadding": 11}},
     "y": {"field": "y", "type": "quantitative", "scale": {"domain": [0.1, 13.6], "nice": false, "zero": false}, "axis": {"title": null, "values": [4, 8, 12], "labelFontSize": 10.5, "labelPadding": 8}}
   }},
  {"width": 222, "height": 140,
   "title": {"text": "(c) MF output |y⁽¹⁾_MF|", "fontSize": 15, "offset": 0},
   "data": {"name": "c"},
   "mark": {"type": "line", "clip": true, "color": "black", "strokeWidth": 1.2},
   "encoding": {
     "x": {"field": "x", "type": "quantitative", "scale": {"domain": [-24, 500], "nice": false, "zero": false}, "axis": {"title": null, "values": [100, 200, 300, 400, 500], "labelFontSize": 10.5, "labelPadding": 11}},
     "y": {"field": "y", "type": "quantitative", "scale": {"domain": [0.01, 1.41], "nice": false, "zero": false}, "axis": {"title": null, "values": [0.4, 0.8, 1.2], "labelExpr": "'' + datum.value", "labelFontSize": 10.5, "labelPadding": 8}}
   }}
]},
{"bounds": "flush", "spacing": 68,
 "resolve": {"scale": {"strokeDash": "independent", "strokeWidth": "independent"}, "legend": {"strokeDash": "independent", "strokeWidth": "independent"}},
 "hconcat": [
  {"width": 322, "height": 139,
   "title": {"text": "(d) output of sidelobe removal: |y⁽¹⁾|", "fontSize": 17, "offset": 4},
   "data": {"name": "d"},
   "mark": {"type": "line", "clip": true, "color": "black"},
   "encoding": {
     "x": {"field": "x", "type": "quantitative", "scale": {"domain": [150, 350], "nice": false, "zero": false}, "axis": {"title": null, "values": [150, 200, 250, 300, 350], "labelFontSize": 14, "labelPadding": 5}},
     "y": {"field": "y", "type": "quantitative", "scale": {"domain": [0.075, 1.23], "nice": false, "zero": false}, "axis": {"title": null, "values": [0.4, 0.8, 1.2], "labelExpr": "'' + datum.value", "labelFontSize": 14, "labelPadding": 8}},
     "strokeDash": {"field": "s", "type": "nominal", "scale": {"domain": ["|h₁⁽ᵏ⁾|", "|y⁽¹⁾|"], "range": [[1.6, 3.8], [1, 0]]}, "legend": {"title": null, "orient": "none", "legendX": 223, "legendY": 10, "symbolSize": 342, "symbolOffset": 9.25, "labelOffset": 12.25, "rowPadding": 12, "padding": 6}},
     "strokeWidth": {"field": "s", "type": "nominal", "scale": {"domain": ["|h₁⁽ᵏ⁾|", "|y⁽¹⁾|"], "range": [1.7, 1.1]}, "legend": null}
   }},
  {"width": 340, "height": 139,
   "title": {"text": "(e) estimate of square of channel amplitude: |yₐᵥ|²", "fontSize": 16, "offset": 4},
   "data": {"name": "e"},
   "mark": {"type": "line", "clip": true, "color": "black"},
   "encoding": {
     "x": {"field": "x", "type": "quantitative", "scale": {"domain": [150, 350], "nice": false, "zero": false}, "axis": {"title": null, "values": [150, 200, 250, 300, 350], "labelFontSize": 14, "labelPadding": 5}},
     "y": {"field": "y", "type": "quantitative", "scale": {"domain": [-13.5, 0.25], "nice": false, "zero": false}, "axis": {"title": "dB", "titleFontSize": 15, "titlePadding": -12.5, "values": [-12, -8, -4, 0], "labelExpr": "replace('' + datum.value, '-', '−')", "labelFontSize": 14, "labelPadding": 12}},
     "strokeDash": {"field": "s", "type": "nominal", "scale": {"domain": ["|h₁⁽ᵏ⁾|²", "|yₐᵥ|²"], "range": [[1.6, 3.8], [1, 0]]}, "legend": {"title": null, "orient": "none", "legendX": 235, "legendY": 2, "symbolSize": 342, "symbolOffset": 9.25, "labelOffset": 12.25, "rowPadding": 12, "padding": 6}},
     "strokeWidth": {"field": "s", "type": "nominal", "scale": {"domain": ["|h₁⁽ᵏ⁾|²", "|yₐᵥ|²"], "range": [1.7, 1.1]}, "legend": null}
   }}
]},
{"bounds": "flush", "spacing": 68,
 "resolve": {"scale": {"strokeDash": "independent", "strokeWidth": "independent"}, "legend": {"strokeDash": "independent", "strokeWidth": "independent"}},
 "hconcat": [
  {"width": 322, "height": 140,
   "title": {"text": "(f) reflectivity error", "fontSize": 17, "offset": 1},
   "data": {"name": "f"},
   "mark": {"type": "line", "clip": true, "color": "black"},
   "encoding": {
     "x": {"field": "x", "type": "quantitative", "scale": {"domain": [150, 350], "nice": false, "zero": false}, "axis": {"title": null, "values": [150, 200, 250, 300, 350], "labelFontSize": 14, "labelPadding": 3}},
     "y": {"field": "y", "type": "quantitative", "scale": {"domain": [-6, 6], "nice": false, "zero": false}, "axis": {"title": "dB", "titleFontSize": 15, "titlePadding": -8.5, "values": [-6, -4, -2, 0, 2, 4, 6], "labelExpr": "replace('' + datum.value, '-', '−')", "labelFontSize": 14, "labelPadding": 8}},
     "detail": {"field": "p", "type": "nominal"},
     "strokeDash": {"field": "s", "type": "nominal", "scale": {"domain": ["reflectivity error", "1 dB bound"], "range": [[1, 0], [1.6, 3.8]]}, "legend": {"title": null, "orient": "none", "legendX": 3, "legendY": 5, "symbolSize": 462, "symbolOffset": 10.75, "labelOffset": 17.75, "rowPadding": 1, "padding": 5}},
     "strokeWidth": {"field": "s", "type": "nominal", "scale": {"domain": ["reflectivity error", "1 dB bound"], "range": [1.1, 1.7]}, "legend": null}
   }},
  {"width": 340, "height": 140,
   "title": {"text": "(g) velocity error", "fontSize": 17, "offset": 1},
   "data": {"name": "g"},
   "mark": {"type": "line", "clip": true, "color": "black"},
   "encoding": {
     "x": {"field": "x", "type": "quantitative", "scale": {"domain": [150, 350], "nice": false, "zero": false}, "axis": {"title": null, "values": [150, 200, 250, 300, 350], "labelFontSize": 14, "labelPadding": 3}},
     "y": {"field": "y", "type": "quantitative", "scale": {"domain": [-5, 5], "nice": false, "zero": false}, "axis": {"title": "m/s", "titleFontSize": 15, "titlePadding": -10.5, "values": [-5, 0, 5], "labelExpr": "replace('' + datum.value, '-', '−')", "labelFontSize": 14, "labelPadding": 11}},
     "detail": {"field": "p", "type": "nominal"},
     "strokeDash": {"field": "s", "type": "nominal", "scale": {"domain": ["velocity error", "1 m/s bound"], "range": [[1, 0], [1.6, 3.8]]}, "legend": {"title": null, "orient": "none", "legendX": 191, "legendY": 3, "symbolSize": 506, "symbolOffset": 11.25, "labelOffset": 16.25, "rowPadding": 1, "padding": 5}},
     "strokeWidth": {"field": "s", "type": "nominal", "scale": {"domain": ["velocity error", "1 m/s bound"], "range": [1.1, 1.7]}, "legend": null}
   }}
]}
]
}
